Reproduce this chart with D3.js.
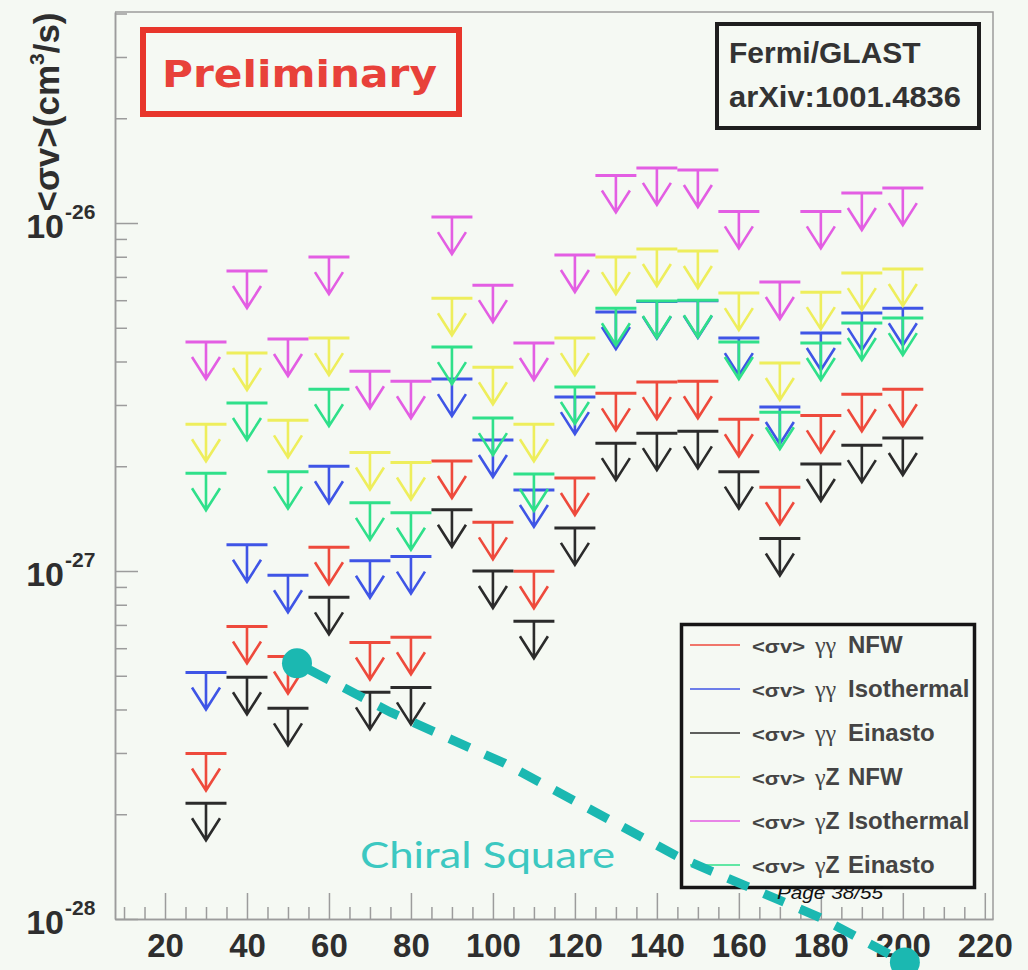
<!DOCTYPE html>
<html>
<head>
<meta charset="utf-8">
<script src="https://cdn.jsdelivr.net/npm/d3@7"></script>
<style>
  html, body { margin: 0; padding: 0; background: #f5f9f3; }
  svg { display: block; }
</style>
</head>
<body>
<svg id="chart" width="1028" height="970"></svg>
<script>
// ---- Data: 95% CL upper limits on <σv> (cm^3/s) vs WIMP mass (GeV) ----
const massBins = [30, 40, 50, 60, 70, 80, 90, 100, 110, 120, 130, 140, 150, 160, 170, 180, 190, 200];

const limGammaGammaNFW = [2.99e-28, 6.93e-28, 5.68e-28, 1.17e-27, 6.23e-28, 6.45e-28, 2.07e-27, 1.38e-27, 9.98e-28,
  1.85e-27, 3.24e-27, 3.49e-27, 3.51e-27, 2.73e-27, 1.74e-27, 2.80e-27, 3.22e-27, 3.33e-27];
const limGammaGammaIso = [5.11e-28, 1.19e-27, 9.72e-28, 2.00e-27, 1.07e-27, 1.10e-27, 3.56e-27, 2.38e-27, 1.71e-27,
  3.16e-27, 5.55e-27, 5.95e-27, 5.98e-27, 4.67e-27, 2.96e-27, 4.83e-27, 5.51e-27, 5.69e-27];
const limGammaGammaEin = [2.15e-28, 4.95e-28, 4.03e-28, 8.40e-28, 4.48e-28, 4.63e-28, 1.50e-27, 1.00e-27, 7.17e-28,
  1.33e-27, 2.33e-27, 2.49e-27, 2.52e-27, 1.93e-27, 1.24e-27, 2.03e-27, 2.30e-27, 2.41e-27];
const limGammaZNFW = [2.64e-27, 4.23e-27, 2.71e-27, 4.67e-27, 2.19e-27, 2.05e-27, 6.08e-27, 3.85e-27, 2.64e-27,
  4.67e-27, 7.98e-27, 8.42e-27, 8.31e-27, 6.29e-27, 3.96e-27, 6.33e-27, 7.18e-27, 7.38e-27];
const limGammaZIso = [4.55e-27, 7.28e-27, 4.64e-27, 7.98e-27, 3.75e-27, 3.51e-27, 1.04e-26, 6.63e-27, 4.52e-27,
  8.09e-27, 1.37e-26, 1.44e-26, 1.42e-26, 1.08e-26, 6.77e-27, 1.08e-26, 1.22e-26, 1.26e-26];
const limGammaZEin = [1.91e-27, 3.04e-27, 1.93e-27, 3.33e-27, 1.57e-27, 1.47e-27, 4.40e-27, 2.75e-27, 1.90e-27,
  3.38e-27, 5.69e-27, 5.97e-27, 6.00e-27, 4.55e-27, 2.86e-27, 4.52e-27, 5.16e-27, 5.33e-27];

const seriesValues = [limGammaGammaNFW, limGammaGammaIso, limGammaGammaEin, limGammaZNFW, limGammaZIso, limGammaZEin];
const seriesProcess = ["γγ", "γγ", "γγ", "γZ", "γZ", "γZ"];
const seriesHalo = ["NFW", "Isothermal", "Einasto", "NFW", "Isothermal", "Einasto"];
const seriesColors = ["#ee4a3c", "#3f55e6", "#2b2b2b", "#eeee5c", "#e35ee3", "#2fe08a"];

// Chiral Square model prediction
const chiralMass = [52.2, 75, 102.9, 145.6, 179.8, 200.5];
const chiralSigv = [5.43e-28, 3.93e-28, 2.80e-28, 1.50e-28, 1.01e-28, 7.5e-29];

// Axis ticks
const xTickValues = [20, 40, 60, 80, 100, 120, 140, 160, 180, 200, 220];
const xMinorValues = d3.range(10, 222, 5).filter(v => v % 20 !== 0);
const yDecades = [1e-28, 1e-27, 1e-26];
const yExponents = ["-28", "-27", "-26"];
const yMinorValues = [];
[1e-28, 1e-27, 1e-26].forEach(d => { for (let k = 2; k <= 9; k++) if (k * d <= 4.04e-26) yMinorValues.push(k * d); });

// ---- Layout ----
const W = 1028, H = 970;
const bg = "#f5f9f3";
const axisColor = "#9c9c9c";
const textColor = "#2e2e2e";
const svg = d3.select("#chart");

const x = d3.scaleLinear().domain([7.8, 222]).range([115, 993]);
const y = d3.scaleLog().domain([1e-28, 4.04e-26]).range([919, 12]);

svg.append("rect").attr("width", W).attr("height", H).attr("fill", bg);

// frame (top and right)
svg.append("path")
  .attr("d", `M${x.range()[0]},${y.range()[1]}H${x.range()[1]}V${y.range()[0]}`)
  .attr("fill", "none").attr("stroke", axisColor).attr("stroke-width", 1.5);

// x axis
const gxMinor = svg.append("g").attr("transform", `translate(0,${y.range()[0]})`)
  .call(d3.axisBottom(x).tickValues(xMinorValues).tickSize(-12).tickSizeOuter(0).tickFormat(""));
const gx = svg.append("g").attr("transform", `translate(0,${y.range()[0]})`)
  .call(d3.axisBottom(x).tickValues(xTickValues).tickSize(-26).tickSizeOuter(0).tickPadding(15));
gx.selectAll("text").attr("font-family", "Liberation Sans, Arial, sans-serif")
  .attr("font-weight", "bold").attr("font-size", 33).attr("fill", textColor);

// y axis
const gyMinor = svg.append("g").attr("transform", `translate(${x.range()[0]},0)`)
  .call(d3.axisLeft(y).tickValues(yMinorValues).tickSize(-12).tickSizeOuter(0).tickFormat(""));
const gy = svg.append("g").attr("transform", `translate(${x.range()[0]},0)`)
  .call(d3.axisLeft(y).tickValues(yDecades).tickSize(-23).tickSizeOuter(0).tickFormat(""));

[gxMinor, gx, gyMinor, gy].forEach(g => {
  g.selectAll("line").attr("stroke", axisColor).attr("stroke-width", 1.5);
  g.select(".domain").attr("stroke", axisColor).attr("stroke-width", 1.5);
});

// y tick labels: 10^n
const yLab = svg.append("g").attr("font-family", "Liberation Sans, Arial, sans-serif")
  .attr("font-weight", "bold").attr("fill", textColor);
yDecades.forEach((d, i) => {
  yLab.append("text").attr("x", 64).attr("y", y(d) + 15).attr("text-anchor", "end")
    .attr("font-size", 34).text("10");
  yLab.append("text").attr("x", 65).attr("y", y(d) - 4).attr("font-size", 21).text(yExponents[i]);
});

// y axis title
const yTitle = svg.append("text")
  .attr("transform", "translate(59,112) rotate(-90)")
  .attr("text-anchor", "middle")
  .attr("font-family", "Liberation Sans, Arial, sans-serif")
  .attr("font-weight", "bold").attr("font-size", 35).attr("fill", textColor);
yTitle.append("tspan").text("<σv>(cm");
yTitle.append("tspan").attr("dy", -15).attr("font-size", 21).text("3");
yTitle.append("tspan").attr("dy", 15).text("/s)");

// ---- Upper-limit markers ----
const arrowLen = 37, headLen = 22, headHalf = 14, binHalf = 5;
const marks = svg.append("g").attr("fill", "none");
seriesValues.forEach((vals, si) => {
  const g = marks.append("g").attr("stroke", seriesColors[si]);
  const pts = massBins.map((m, i) => ({ m, v: vals[i] }));
  g.selectAll("line.bar").data(pts).join("line").attr("class", "bar")
    .attr("x1", d => x(d.m - binHalf)).attr("x2", d => x(d.m + binHalf))
    .attr("y1", d => y(d.v)).attr("y2", d => y(d.v))
    .attr("stroke-width", 3);
  g.selectAll("path.arrow").data(pts).join("path").attr("class", "arrow")
    .attr("d", d => {
      const cx = x(d.m), y0 = y(d.v), tip = y0 + arrowLen;
      return `M${cx},${y0}V${tip}M${cx - headHalf},${tip - headLen}L${cx},${tip}L${cx + headHalf},${tip - headLen}`;
    })
    .attr("stroke-width", 2.6).attr("stroke-linejoin", "miter");
});

// ---- Labels / boxes ----
svg.append("rect").attr("x", 143).attr("y", 30).attr("width", 316).attr("height", 84)
  .attr("fill", "none").attr("stroke", "#e8362b").attr("stroke-width", 6);
svg.append("text").attr("x", 162).attr("y", 87)
  .attr("font-family", "DejaVu Sans, Verdana, sans-serif").attr("font-weight", "bold")
  .attr("font-size", 38).attr("fill", "#e8413a")
  .attr("textLength", 275).attr("lengthAdjust", "spacingAndGlyphs")
  .text("Preliminary");

svg.append("rect").attr("x", 717).attr("y", 24).attr("width", 262).attr("height", 104)
  .attr("fill", "none").attr("stroke", "#1e1e1e").attr("stroke-width", 4);
const ref = svg.append("g").attr("font-family", "Liberation Sans, Arial, sans-serif")
  .attr("font-weight", "bold").attr("font-size", 30).attr("fill", "#333");
ref.append("text").attr("x", 729).attr("y", 63).text("Fermi/GLAST");
ref.append("text").attr("x", 729).attr("y", 107)
  .attr("textLength", 232).attr("lengthAdjust", "spacingAndGlyphs").text("arXiv:1001.4836");

// ---- Legend ----
const lgX = 681.5, lgY = 624.5, lgW = 293, lgH = 263;
svg.append("clipPath").attr("id", "legendClip")
  .append("rect").attr("x", lgX).attr("y", lgY).attr("width", lgW - 1).attr("height", lgH);
svg.append("rect").attr("x", lgX).attr("y", lgY).attr("width", lgW).attr("height", lgH)
  .attr("fill", bg).attr("stroke", "#151515").attr("stroke-width", 3.5);
const lg = svg.append("g").attr("clip-path", "url(#legendClip)");
seriesHalo.forEach((halo, i) => {
  const ry = 645 + i * 44;
  lg.append("line").attr("x1", 690).attr("x2", 740).attr("y1", ry).attr("y2", ry)
    .attr("stroke", seriesColors[i]).attr("stroke-width", 1.6);
  const t = lg.append("text").attr("y", ry + 8).attr("fill", "#444")
    .attr("font-family", "Liberation Sans, Arial, sans-serif").attr("font-weight", "bold").attr("font-size", 24);
  t.append("tspan").attr("x", 752).attr("font-size", 19)
    .attr("textLength", 53).attr("lengthAdjust", "spacingAndGlyphs").text("<σv>");
  const proc = seriesProcess[i];
  t.append("tspan").attr("x", 815).attr("font-family", "Liberation Serif, Times New Roman, serif")
    .attr("font-weight", "normal").attr("font-size", 24).text(proc[0]);
  if (proc[1] === "γ") {
    t.append("tspan").attr("font-family", "Liberation Serif, Times New Roman, serif")
      .attr("font-weight", "normal").attr("font-size", 24).text(proc[1]);
  } else {
    t.append("tspan").attr("font-size", 23).text(proc[1]);
  }
  t.append("tspan").attr("x", 848).text(halo);
});

// ---- Chiral Square prediction ----
const chiral = chiralMass.map((m, i) => ({ m, v: chiralSigv[i] }));
const teal = "#1bb8b1";
svg.append("path").datum(chiral)
  .attr("d", d3.line().x(d => x(d.m)).y(d => y(d.v)))
  .attr("fill", "none").attr("stroke", teal).attr("stroke-width", 9)
  .attr("stroke-dasharray", "22 17").attr("stroke-dashoffset", -14);
svg.selectAll("circle.chiral").data([chiral[0], chiral[chiral.length - 1]]).join("circle")
  .attr("class", "chiral").attr("cx", d => x(d.m)).attr("cy", d => y(d.v)).attr("r", 15)
  .attr("fill", teal);
svg.append("text").attr("x", 360).attr("y", 868)
  .attr("font-family", "Lato, Open Sans, sans-serif").attr("font-size", 36).attr("fill", "#3cc8c1")
  .attr("textLength", 255).attr("lengthAdjust", "spacingAndGlyphs")
  .text("Chiral Square");

// page footer
svg.append("text").attr("x", 777).attr("y", 899)
  .attr("font-family", "Liberation Sans, Arial, sans-serif").attr("font-style", "italic")
  .attr("font-size", 19).attr("fill", "#111")
  .attr("textLength", 106).attr("lengthAdjust", "spacingAndGlyphs")
  .text("Page 38/55");
</script>
</body>
</html>
